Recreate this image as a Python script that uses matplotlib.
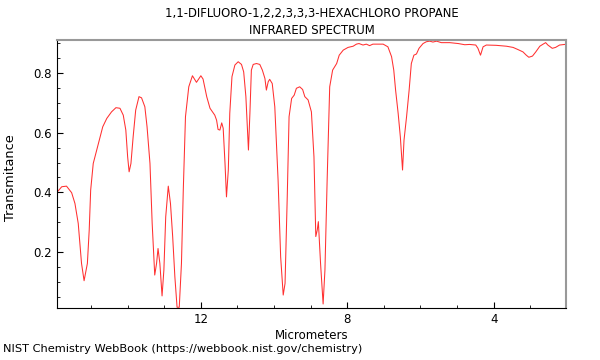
import matplotlib
matplotlib.use('Agg')
import matplotlib.pyplot as plt
from matplotlib.ticker import MultipleLocator

# Espectro IR (micrometros, transmitancia)
micrometros = [15.92, 15.80, 15.67, 15.53, 15.44, 15.35, 15.26, 15.19, 15.10, 15.05,
               15.01, 14.94, 14.80, 14.68, 14.57, 14.44, 14.32, 14.21, 14.12, 14.05,
               14.00, 13.96, 13.91, 13.85, 13.78, 13.69, 13.62, 13.53, 13.47, 13.39,
               13.33, 13.26, 13.21, 13.17, 13.12, 13.06, 13.01, 12.96, 12.89, 12.83,
               12.77, 12.71, 12.65, 12.59, 12.53, 12.48, 12.42, 12.33, 12.23, 12.12,
               12.00, 11.94, 11.84, 11.75, 11.62, 11.57, 11.53, 11.48, 11.43, 11.39,
               11.34, 11.30, 11.25, 11.21, 11.15, 11.07, 10.98, 10.89, 10.83, 10.77,
               10.70, 10.66, 10.62, 10.57, 10.48, 10.39, 10.32, 10.25, 10.21, 10.16,
               10.12, 10.05, 9.98, 9.89, 9.82, 9.75, 9.70, 9.64, 9.59, 9.52,
               9.45, 9.39, 9.30, 9.22, 9.16, 9.07, 8.98, 8.91, 8.86, 8.82,
               8.79, 8.73, 8.66, 8.61, 8.55, 8.48, 8.40, 8.29, 8.22, 8.11,
               7.98, 7.84, 7.75, 7.68, 7.57, 7.48, 7.39, 7.30, 7.16, 7.02,
               6.89, 6.79, 6.73, 6.68, 6.61, 6.55, 6.49, 6.45, 6.38, 6.31,
               6.25, 6.18, 6.11, 6.04, 5.93, 5.84, 5.75, 5.66, 5.56, 5.43,
               5.20, 4.97, 4.79, 4.66, 4.49, 4.43, 4.36, 4.29, 4.20, 3.93,
               3.65, 3.47, 3.34, 3.20, 3.11, 3.04, 2.94, 2.85, 2.74, 2.65,
               2.58, 2.52, 2.40, 2.31, 2.20, 2.06]
transmitancia = [0.402, 0.419, 0.421, 0.399, 0.363, 0.296, 0.162, 0.104, 0.162, 0.274,
                 0.408, 0.497, 0.564, 0.620, 0.648, 0.670, 0.684, 0.682, 0.659, 0.609,
                 0.519, 0.469, 0.497, 0.586, 0.676, 0.721, 0.717, 0.687, 0.620, 0.497,
                 0.296, 0.123, 0.162, 0.212, 0.162, 0.053, 0.140, 0.318, 0.421, 0.363,
                 0.252, 0.117, 0.015, 0.015, 0.162, 0.408, 0.654, 0.754, 0.791, 0.769,
                 0.791, 0.780, 0.721, 0.682, 0.659, 0.642, 0.611, 0.609, 0.633, 0.615,
                 0.497, 0.385, 0.475, 0.665, 0.788, 0.827, 0.838, 0.829, 0.804, 0.721,
                 0.542, 0.665, 0.810, 0.829, 0.832, 0.829, 0.810, 0.782, 0.743, 0.771,
                 0.779, 0.765, 0.687, 0.441, 0.184, 0.056, 0.095, 0.385, 0.654, 0.715,
                 0.726, 0.749, 0.754, 0.745, 0.721, 0.710, 0.670, 0.519, 0.252, 0.274,
                 0.302, 0.162, 0.026, 0.140, 0.441, 0.754, 0.810, 0.832, 0.860, 0.877,
                 0.886, 0.890, 0.897, 0.899, 0.894, 0.897, 0.892, 0.897, 0.897, 0.897,
                 0.888, 0.855, 0.810, 0.743, 0.665, 0.586, 0.475, 0.575, 0.654, 0.743,
                 0.832, 0.860, 0.864, 0.883, 0.899, 0.905, 0.907, 0.904, 0.907, 0.902,
                 0.902, 0.899, 0.895, 0.896, 0.894, 0.883, 0.860, 0.888, 0.894, 0.893,
                 0.890, 0.886, 0.879, 0.871, 0.860, 0.853, 0.857, 0.871, 0.890, 0.897,
                 0.902, 0.894, 0.883, 0.886, 0.894, 0.896]
ticks_x = [12, 8, 4]
ticks_y = [0.2, 0.4, 0.6, 0.8]

fig = plt.figure(figsize=(6, 3.6), dpi=100)
ax = fig.add_axes([0.095, 0.144, 0.848, 0.745])

ax.plot(micrometros, transmitancia, color='#ff3030', lw=0.75)

ax.set_xlim(15.93, 2.03)
ax.set_ylim(0.012, 0.911)
ax.set_xticks(ticks_x)
ax.set_yticks(ticks_y)
ax.xaxis.set_minor_locator(MultipleLocator(1))
ax.yaxis.set_minor_locator(MultipleLocator(0.05))
ax.tick_params(which='both', direction='in', labelsize=8.5, top=False, right=False)
ax.tick_params(which='major', length=4)
ax.tick_params(which='minor', length=2.5)

for lado in ['top', 'right']:
    ax.spines[lado].set_color('#999999')
    ax.spines[lado].set_linewidth(1.5)

ax.set_xlabel('Micrometers', fontsize=8.5, labelpad=2)
# etiqueta del eje y puesta a mano para que quede pegada al borde
fig.text(11 / 600, 1 - 178 / 360, 'Transmitance', rotation=90,
         ha='center', va='center', fontsize=9.3)
ax.set_title('1,1-DIFLUORO-1,2,2,3,3,3-HEXACHLORO PROPANE\nINFRARED SPECTRUM',
             fontsize=8.4, linespacing=1.4, pad=4)
fig.text(0.005, 0.022, 'NIST Chemistry WebBook (https://webbook.nist.gov/chemistry)',
         fontsize=8.2)

fig.savefig('out.png', dpi=100)
